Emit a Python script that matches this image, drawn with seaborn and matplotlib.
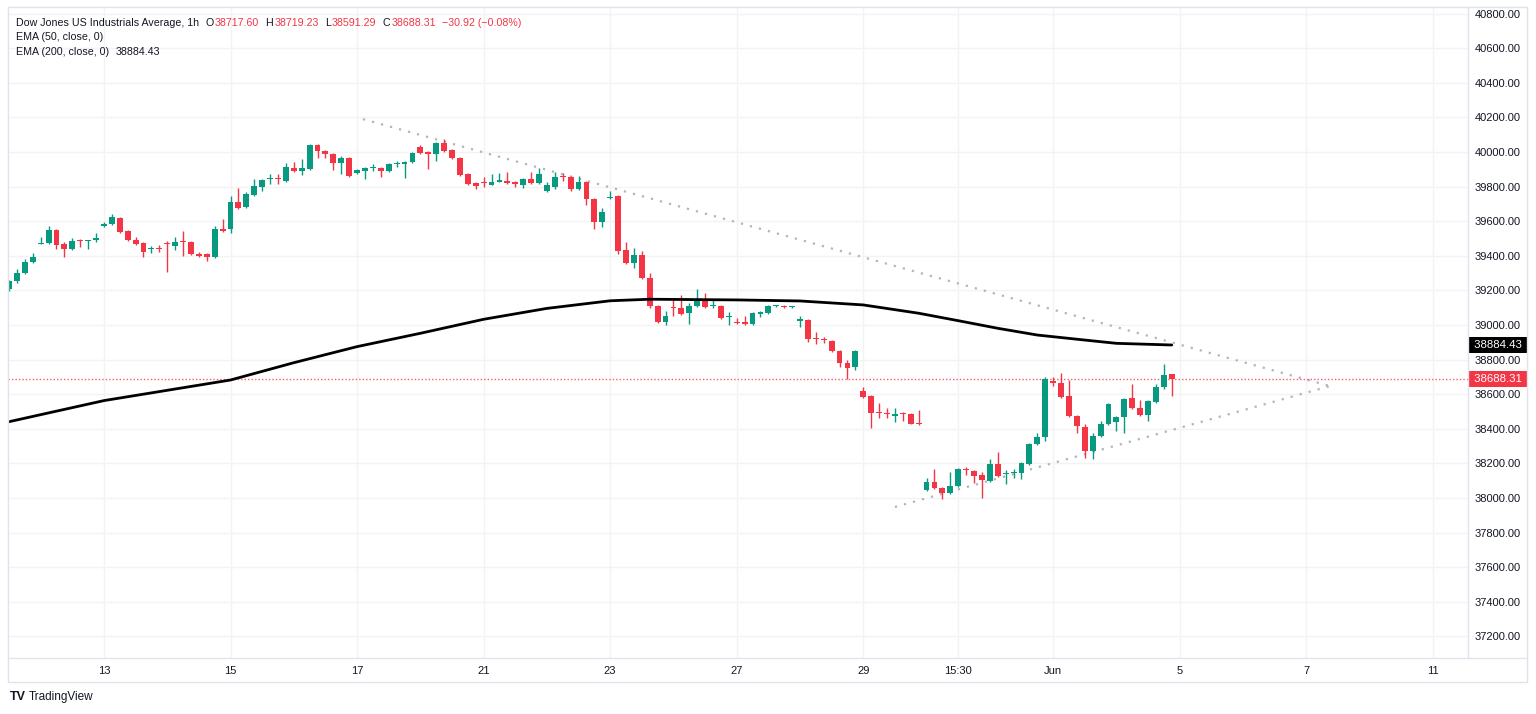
import matplotlib
matplotlib.use("Agg")
import matplotlib.pyplot as plt
import matplotlib.transforms as mtransforms
from matplotlib.lines import Line2D
import seaborn as sns
import numpy as np

# hourly candles (bar index = position in list)
opens = [39208, 39254, 39300, 39364, 39470, 39474, 39549, 39468, 39439, 39490,
         39485, 39491, 39572, 39584, 39618, 39543, 39491, 39474, 39437, 39441,
         39470, 39457, 39482, 39480, 39410, 39410, 39393, 39555, 39555, 39711,
         39682, 39751, 39798, 39842, 39846, 39832, 39907, 39890, 39902, 40040,
         40006, 39988, 39936, 39965, 39879, 39890, 39910, 39907, 39890, 39930,
         39930, 39942, 40029, 40000, 39988, 40052, 40012, 39965, 39873, 39821,
         39823, 39809, 39827, 39832, 39826, 39809, 39844, 39821, 39775, 39798,
         39857, 39855, 39786, 39827, 39728, 39595, 39734, 39746, 39434, 39358,
         39405, 39272, 39110, 39017, 39100, 39098, 39069, 39110, 39150, 39108,
         39110, 39044, 39017, 39017, 39006, 39064, 39069, 39108, 39112, 39106,
         39023, 39029, 38921, 38916, 38908, 38850, 38780, 38757, 38619, 38590,
         38493, 38488, 38474, 38490, 38486, 38430, 38046, 38093, 38058, 38029,
         38070, 38164, 38156, 38133, 38098, 38196, 38137, 38143, 38145, 38196,
         38312, 38353, 38676, 38665, 38590, 38474, 38410, 38272, 38358, 38428,
         38439, 38468, 38578, 38520, 38480, 38555, 38642, 38717.60]
closes = [39254, 39300, 39364, 39393, 39476, 39549, 39462, 39439, 39486, 39485,
          39490, 39503, 39584, 39624, 39538, 39491, 39468, 39422, 39441, 39437,
          39466, 39480, 39478, 39410, 39399, 39393, 39555, 39543, 39711, 39676,
          39757, 39803, 39838, 39846, 39842, 39913, 39890, 39907, 40040, 40006,
          39988, 39936, 39965, 39861, 39896, 39907, 39912, 39890, 39930, 39934,
          39942, 39994, 39994, 39988, 40052, 40006, 39965, 39867, 39815, 39803,
          39819, 39827, 39838, 39821, 39815, 39844, 39821, 39873, 39809, 39855,
          39853, 39786, 39827, 39728, 39595, 39653, 39740, 39428, 39358, 39405,
          39272, 39110, 39017, 39052, 39096, 39064, 39110, 39150, 39104, 39112,
          39040, 39048, 39011, 39006, 39069, 39075, 39110, 39112, 39106, 39110,
          39034, 38919, 38917, 38912, 38850, 38780, 38751, 38850, 38584, 38491,
          38489, 38484, 38486, 38486, 38428, 38426, 38093, 38058, 38029, 38070,
          38167, 38160, 38127, 38104, 38196, 38127, 38141, 38147, 38202, 38312,
          38353, 38688, 38665, 38584, 38474, 38416, 38272, 38358, 38428, 38543,
          38468, 38572, 38520, 38480, 38561, 38642, 38711, 38688.31]
highs = [39262, 39325, 39382, 39416, 39507, 39572, 39555, 39480, 39503, 39495,
         39492, 39534, 39595, 39642, 39624, 39548, 39509, 39480, 39457, 39462,
         39486, 39509, 39545, 39485, 39422, 39416, 39572, 39613, 39746, 39792,
         39768, 39844, 39846, 39870, 39870, 39936, 39942, 39959, 40046, 40046,
         40012, 39992, 39975, 39970, 39902, 39915, 39930, 39912, 39936, 39948,
         39946, 40000, 40040, 40006, 40058, 40075, 40018, 39970, 39878, 39826,
         39855, 39873, 39878, 39884, 39832, 39850, 39884, 39907, 39826, 39884,
         39878, 39861, 39861, 39832, 39734, 39676, 39775, 39752, 39480, 39445,
         39428, 39300, 39115, 39080, 39150, 39174, 39127, 39208, 39185, 39150,
         39115, 39075, 39040, 39050, 39075, 39080, 39115, 39115, 39115, 39112,
         39052, 39034, 38960, 38930, 38913, 38855, 38798, 38855, 38642, 38596,
         38549, 38520, 38520, 38497, 38490, 38510, 38115, 38167, 38064, 38150,
         38173, 38180, 38162, 38150, 38225, 38266, 38162, 38167, 38208, 38318,
         38376, 38700, 38700, 38723, 38680, 38480, 38428, 38376, 38445, 38549,
         38474, 38578, 38660, 38566, 38566, 38660, 38775, 38719.23]
lows = [39195, 39245, 39292, 39358, 39468, 39470, 39439, 39393, 39435, 39451,
        39439, 39480, 39565, 39580, 39532, 39485, 39462, 39393, 39416, 39422,
        39306, 39434, 39399, 39405, 39393, 39370, 39390, 39538, 39532, 39670,
        39676, 39745, 39775, 39815, 39815, 39826, 39885, 39868, 39896, 39965,
        39965, 39896, 39873, 39855, 39873, 39844, 39890, 39855, 39884, 39913,
        39850, 39936, 39988, 39902, 39948, 40000, 39959, 39861, 39808, 39786,
        39798, 39809, 39826, 39815, 39798, 39794, 39815, 39815, 39770, 39786,
        39832, 39775, 39780, 39694, 39555, 39567, 39728, 39411, 39352, 39330,
        39266, 39098, 39011, 39000, 39052, 39060, 39006, 39104, 39098, 39098,
        39034, 39000, 39006, 39000, 39000, 39046, 39064, 39104, 39100, 39100,
        38990, 38902, 38890, 38895, 38845, 38757, 38688, 38740, 38578, 38405,
        38463, 38463, 38440, 38445, 38428, 38424, 38040, 38052, 37994, 38023,
        38064, 38133, 38087, 38000, 38092, 38121, 38081, 38115, 38110, 38190,
        38306, 38330, 38650, 38578, 38468, 38378, 38231, 38225, 38352, 38422,
        38390, 38376, 38514, 38474, 38445, 38549, 38630, 38591.29]

# EMA 200 read at some bars
ema_idx = [0, 12, 28, 36, 44, 52, 60, 68, 76, 81, 92, 100, 108, 115, 120,
           125, 130, 136, 140, 147]
ema_val = [38441, 38563, 38682, 38782, 38875, 38952, 39033, 39096, 39140,
           39149, 39145, 39139, 39116, 39068, 39025, 38981, 38942, 38913,
           38894, 38884.43]

# triangle trend lines
upper_idx = [44.75, 167.0]
upper_val = [40190, 38647]
lower_idx = [112.0, 167.0]
lower_val = [37948, 38647]

last_close = 38688.31
ema_last = 38884.43

tick_pos = [12, 28, 44, 60, 76, 92, 108, 120, 132, 148, 164, 180]
tick_lab = ["13", "15", "17", "21", "23", "27", "29", "15:30", "Jun", "5", "7", "11"]
price_ticks = list(range(37200, 40801, 200))

title = "Dow Jones US Industrials Average, 1h"
ohlc_txt = [("O", "38717.60"), ("H", "38719.23"), ("L", "38591.29"), ("C", "38688.31")]
change_txt = "\u221230.92 (\u22120.08%)"

GREEN = "#089981"
RED = "#f23645"
DARK = "#131722"
GRID = "#f2f3f5"
BORDER = "#e0e3eb"

sns.set_theme(style="white")
plt.rcParams['font.family'] = ['Liberation Sans', 'DejaVu Sans']

W, H = 1536, 714
fig = plt.figure(figsize=(W / 100, H / 100), dpi=100)
fig.patch.set_facecolor("white")

# plot area in pixels: x 8..1468, y 7..658
ax = fig.add_axes([8 / W, (H - 658) / H, 1460 / W, 651 / H])
ax.set_facecolor("white")

idx = np.arange(len(opens))
o = np.array(opens)
c = np.array(closes)
cols = [GREEN if cc >= oo else RED for oo, cc in zip(o, c)]

ax.vlines(idx, lows, highs, colors=cols, lw=1, zorder=3)
body = np.maximum(np.abs(c - o), 6)
ax.bar(idx, body, bottom=np.minimum(o, c), width=0.74, color=cols,
       edgecolor="none", zorder=4)

sns.lineplot(x=ema_idx, y=ema_val, ax=ax, color="black", lw=2, zorder=5)
sns.lineplot(x=upper_idx, y=upper_val, ax=ax, color="#b2b5be", lw=1.6,
             linestyle=(0, (1, 3.2)), zorder=2)
sns.lineplot(x=lower_idx, y=lower_val, ax=ax, color="#b2b5be", lw=1.6,
             linestyle=(0, (1, 3.2)), zorder=2)
ax.axhline(last_close, color=RED, lw=1, linestyle=(0, (1, 1.5)), zorder=2, alpha=0.8)

ax.set_xlim(-0.13, 184.45)
ax.set_ylim(37075.1, 40838.2)

ax.set_xticks(tick_pos)
ax.set_xticklabels(tick_lab)
ax.set_yticks(price_ticks)
ax.set_yticklabels([f"{p:.2f}" for p in price_ticks])
ax.yaxis.tick_right()
ax.tick_params(axis="y", length=0, pad=5, labelsize=8, labelcolor=DARK)
ax.tick_params(axis="x", length=0, pad=6, labelsize=8, labelcolor=DARK)
ax.grid(True, color=GRID, lw=1, zorder=0)
ax.set_axisbelow(True)
for s in ax.spines.values():
    s.set_visible(False)

# price labels on the axis
blend = mtransforms.blended_transform_factory(ax.transAxes, ax.transData)
ax.text(1.002, ema_last, f" {ema_last:.2f} ", transform=blend, ha="left", va="center",
        fontsize=8.2, color="white",
        bbox=dict(facecolor="black", edgecolor="none", pad=2.0), clip_on=False, zorder=10)
ax.text(1.002, last_close, f" {last_close:.2f} ", transform=blend, ha="left", va="center",
        fontsize=8.2, color="white",
        bbox=dict(facecolor=RED, edgecolor="none", pad=2.0), clip_on=False, zorder=10)


def fline(x0, y0, x1, y1):
    fig.add_artist(Line2D([x0 / W, x1 / W], [1 - y0 / H, 1 - y1 / H],
                          color=BORDER, lw=1, transform=fig.transFigure))


# chart frame and axis separators
fline(8, 7, 1527, 7)
fline(8, 7, 8, 682)
fline(1527, 7, 1527, 682)
fline(8, 682, 1527, 682)
fline(8, 658, 1527, 658)
fline(1468, 7, 1468, 658)

# legend text at the top left, pieces placed one after another
renderer = fig.canvas.get_renderer()


def put_seq(x_px, y_px, pieces, size=7.7):
    x = x_px
    for txt, col, gap in pieces:
        x += gap
        t = fig.text(x / W, 1 - y_px / H, txt, color=col, fontsize=size,
                     ha="left", va="center")
        bb = t.get_window_extent(renderer)
        x = bb.x1


line1 = [(title, DARK, 0)]
for k, v in ohlc_txt:
    line1.append((k, DARK, 6))
    line1.append((v, RED, 1.5))
line1.append((change_txt, RED, 6))
put_seq(16, 23, line1)
put_seq(16, 37, [("EMA (50, close, 0)", DARK, 0)])
put_seq(16, 52, [("EMA (200, close, 0)", DARK, 0), (f"{ema_last:.2f}", DARK, 7)])

# TradingView mark
fig.text(10 / W, 1 - 697 / H, "TV", fontsize=9, fontweight="bold", color=DARK,
         ha="left", va="center")
fig.text(29 / W, 1 - 697 / H, "TradingView", fontsize=8.5, color=DARK,
         ha="left", va="center")

fig.savefig("out.png", dpi=100)
